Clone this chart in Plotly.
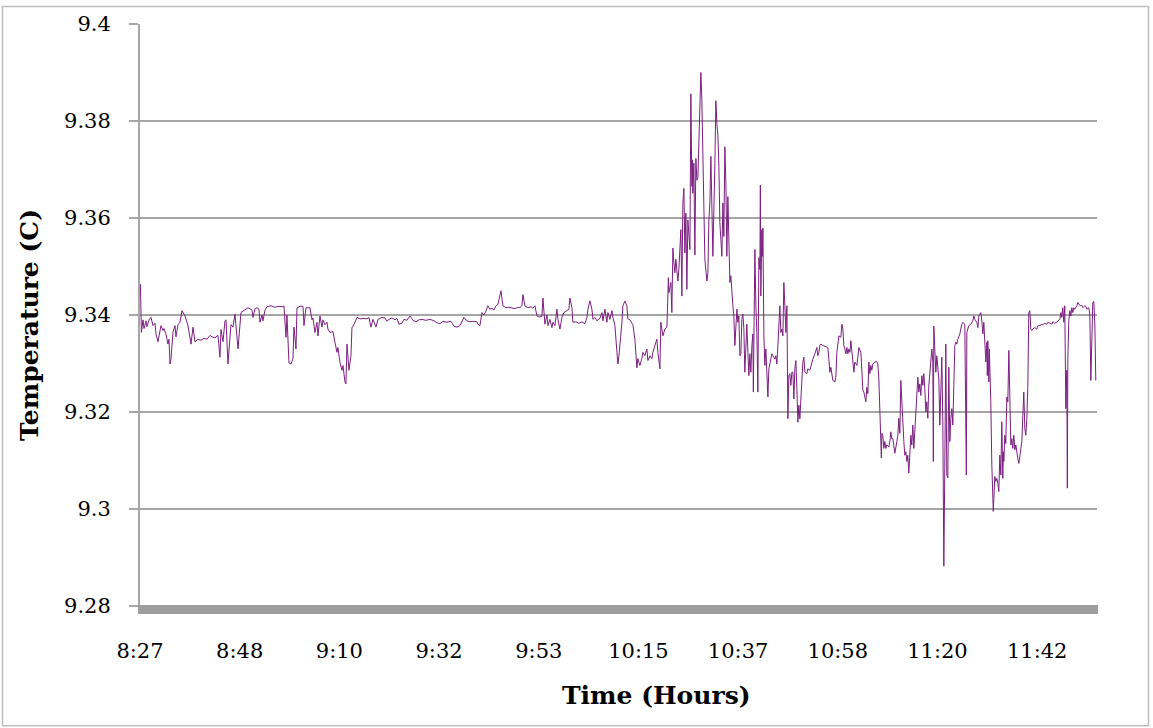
import plotly.graph_objects as go

# elapsed minutes after 8:27 and temperature (C)
elapsed_min = [
    0.00, 0.10, 0.30, 0.65, 0.87, 1.30, 1.52, 1.96, 2.39, 2.82,
    3.26, 3.48, 3.91, 4.35, 4.56, 5.00, 5.22, 5.65, 6.08, 6.30,
    6.52, 6.74, 7.17, 7.61, 7.82, 8.26, 8.69, 9.13, 9.78, 10.43,
    11.08, 11.52, 11.95, 12.60, 13.26, 13.91, 14.56, 15.21, 15.65, 16.30,
    16.95, 17.38, 17.60, 18.04, 18.47, 18.69, 19.12, 19.77, 20.21, 20.64,
    21.30, 21.95, 22.60, 23.03, 23.47, 23.90, 24.34, 24.56, 24.99, 25.42,
    25.86, 26.08, 26.51,
    26.73, 27.16, 27.60, 28.47, 29.34, 30.21, 31.07, 31.29, 31.73, 31.94,
    32.38, 32.81, 33.25, 33.46, 33.90, 34.12, 34.77, 35.42, 35.64, 36.07,
    36.94, 37.38, 37.59, 38.03, 38.46, 38.68, 39.11, 39.55, 39.77, 40.20,
    40.64, 40.85, 41.29, 41.94, 42.37, 42.81, 43.02, 43.46, 43.90, 44.11,
    44.55, 44.76, 44.98, 45.42, 45.85, 46.07, 46.29, 47.16, 47.81, 48.68,
    49.33, 49.76, 50.20, 50.63, 51.28, 51.72, 52.59, 53.24,
    53.67, 54.11, 54.76, 55.41, 55.85, 56.28, 56.93, 57.37, 58.02, 58.67,
    59.33, 59.98, 60.63, 61.28, 62.15, 63.02, 63.89, 64.54, 65.19, 65.84,
    66.71, 67.58, 68.24, 68.89, 69.54, 69.97, 70.41, 71.06, 71.71, 72.58,
    73.23, 73.45, 73.88, 74.32, 74.75, 75.19, 75.62, 76.06, 76.49, 76.93,
    77.36, 77.80, 78.23,
    78.45, 78.88, 79.53, 80.18, 80.84, 81.49, 82.14, 82.57, 83.01, 83.23,
    83.66, 84.31, 84.97, 85.40, 85.84, 86.27, 86.71, 87.36, 87.57, 88.01,
    88.44, 88.66, 89.09, 89.53, 89.75, 90.18, 90.62, 90.83, 91.27, 91.70,
    92.14, 92.79, 93.22, 93.44, 93.88, 94.10, 94.75, 95.40, 96.05, 96.70,
    97.14, 97.36, 97.79, 98.22, 98.44, 98.88, 99.31, 99.96, 100.40, 100.61,
    101.05, 101.48, 101.70, 102.13, 102.57, 102.79, 103.22, 103.66, 103.87, 104.09,
    104.52, 104.74, 104.96,
    105.39, 105.82, 106.04, 106.48, 106.91, 107.13, 107.56, 108.00, 108.21, 108.65,
    109.08, 109.30, 109.74, 110.17, 110.39, 110.82, 111.26, 111.47, 111.91, 112.34,
    112.56, 113.00, 113.21, 113.43, 113.65, 114.08, 114.52, 114.73, 114.84, 114.95,
    115.39, 115.60, 115.82, 116.04, 116.26, 116.47, 116.69, 116.91, 117.12, 117.56,
    117.77, 117.99, 118.21, 118.43, 118.64, 118.86, 119.08, 119.30, 119.52, 119.73,
    119.95, 120.06, 120.17, 120.38, 120.60, 120.82, 121.03, 121.25, 121.47, 121.69,
    121.90, 122.12, 122.34, 122.55, 122.77, 123.21, 123.43, 123.64, 123.86, 124.08,
    124.30, 124.51, 124.95, 125.16, 125.38, 125.60, 125.82, 126.03, 126.47, 126.69,
    126.90, 127.12, 127.34, 127.55, 127.77, 127.99, 128.21, 128.42, 128.64, 128.86,
    129.07, 129.29, 129.73, 129.94, 130.16, 130.38,
    130.60, 130.81, 131.03, 131.25, 131.46, 131.90, 132.12, 132.33, 132.55, 132.77,
    132.99, 133.20, 133.31, 133.42, 133.64, 133.86, 134.07, 134.29, 134.51, 134.73,
    134.83, 134.94, 135.16, 135.27, 135.38, 135.60, 135.81, 136.03, 136.25, 136.47,
    136.68, 137.12, 137.34, 137.55, 137.99, 138.21, 138.42, 138.64, 138.86, 139.07,
    139.29, 139.51, 139.73, 139.94, 140.16, 140.38, 140.60, 140.81, 141.03, 141.25,
    141.46, 141.68, 141.90, 142.12, 142.33, 142.55, 142.77, 142.99, 143.20, 143.42,
    143.64, 143.86, 144.07, 144.29, 144.51, 144.94, 145.16, 145.59, 146.03, 146.25,
    146.68, 147.12, 147.33, 147.55, 147.77, 147.98, 148.42, 149.07, 149.51, 149.72,
    149.94, 150.16, 150.38, 150.59, 151.03, 151.24, 151.46, 151.68, 151.90, 152.33,
    152.55, 152.77, 152.98, 153.20, 153.42, 153.64, 153.85, 154.07, 154.29, 154.50,
    154.72, 154.94, 155.16, 155.37, 155.81, 156.02, 156.24, 156.68, 156.89, 157.11,
    157.33, 157.55,
    157.76, 157.98, 158.20, 158.41, 158.63, 158.85, 159.06, 159.28, 159.72, 160.15,
    160.37, 160.59, 160.80, 161.02, 161.13, 161.24, 161.45, 161.67, 161.89, 162.11,
    162.32, 162.76, 162.98, 163.19, 163.41, 163.63, 163.84, 164.06, 164.50, 164.71,
    164.93, 165.15, 165.36, 165.58, 165.80, 166.02, 166.23, 166.45, 166.67, 166.88,
    167.10, 167.32, 167.54, 167.75, 167.97, 168.19, 168.41, 168.84, 169.06, 169.28,
    169.49, 169.71, 169.93, 170.14, 170.36, 170.58, 170.80, 171.01, 171.23, 171.45,
    171.67, 171.88, 172.10, 172.32, 172.43, 172.53, 172.75, 172.97, 173.19, 173.62,
    173.84, 174.06, 174.27, 174.49, 174.60, 174.71, 174.92, 175.14, 175.36, 175.58,
    175.79, 176.01, 176.23, 176.45, 176.66, 176.88, 177.10, 177.32, 177.53, 177.75,
    177.97, 178.19, 178.62, 178.84, 179.27, 179.49, 179.60, 179.71, 179.93, 180.14,
    180.58, 181.01, 181.23, 181.45, 181.88, 182.10, 182.32, 182.75, 182.97, 183.19,
    183.40, 183.62, 183.84, 184.06, 184.16, 184.27, 184.49, 184.60, 184.71, 184.92,
    185.14, 185.36, 185.46, 185.58, 185.79, 186.01, 186.23, 186.44, 186.66, 186.88,
    187.10, 187.31, 187.53, 187.64, 187.75, 187.97, 188.18, 188.40, 188.62, 188.84,
    189.05, 189.27, 189.49, 189.70, 189.92, 190.14, 190.36, 190.57, 190.79, 191.01,
    191.22, 191.66, 191.88, 192.09, 192.31, 192.53, 192.75, 192.96, 193.18, 193.40,
    193.62, 193.83, 194.05, 194.49, 194.92, 195.14, 195.57, 196.01, 196.22, 196.66,
    197.09, 197.31, 197.74, 198.18, 198.40, 198.83, 199.27, 199.48, 199.92, 200.14,
    200.35, 200.57, 200.79, 201.00, 201.22, 201.44, 201.55, 201.66, 201.87, 202.09,
    202.31, 202.53, 202.74, 202.96, 203.18, 203.61, 203.83, 204.05, 204.48, 204.70,
    204.92, 205.35, 205.57, 205.79, 206.22, 206.44, 206.66, 206.87, 207.09, 207.31,
    207.53, 207.74,
]

temp_c = [
    9.3440, 9.3463, 9.3364, 9.3390, 9.3372, 9.3388, 9.3376, 9.3390, 9.3395, 9.3378,
    9.3383, 9.3361, 9.3345, 9.3372, 9.3378, 9.3368, 9.3372, 9.3360, 9.3340, 9.3350,
    9.3299, 9.3310, 9.3365, 9.3378, 9.3355, 9.3380, 9.3385, 9.3409, 9.3398, 9.3378,
    9.3340, 9.3375, 9.3345, 9.3350, 9.3348, 9.3352, 9.3350, 9.3358, 9.3355, 9.3353,
    9.3358, 9.3313, 9.3370, 9.3345, 9.3388, 9.3390, 9.3299, 9.3380, 9.3375, 9.3402,
    9.3330, 9.3405, 9.3410, 9.3412, 9.3415, 9.3413, 9.3410, 9.3395, 9.3413, 9.3415,
    9.3412, 9.3385, 9.3400,
    9.3388, 9.3410, 9.3417, 9.3419, 9.3416, 9.3418, 9.3417, 9.3419, 9.3354, 9.3400,
    9.3301, 9.3299, 9.3310, 9.3375, 9.3330, 9.3414, 9.3418, 9.3418, 9.3378, 9.3415,
    9.3415, 9.3390, 9.3394, 9.3364, 9.3385, 9.3357, 9.3398, 9.3375, 9.3390, 9.3380,
    9.3385, 9.3371, 9.3364, 9.3366, 9.3344, 9.3323, 9.3333, 9.3302, 9.3286, 9.3296,
    9.3262, 9.3258, 9.3340, 9.3286, 9.3316, 9.3375, 9.3376, 9.3395, 9.3392, 9.3393,
    9.3392, 9.3395, 9.3375, 9.3391, 9.3375, 9.3391, 9.3395, 9.3394,
    9.3387, 9.3391, 9.3394, 9.3390, 9.3393, 9.3381, 9.3383, 9.3391, 9.3389, 9.3398,
    9.3389, 9.3386, 9.3390, 9.3391, 9.3389, 9.3391, 9.3388, 9.3384, 9.3382, 9.3387,
    9.3385, 9.3387, 9.3377, 9.3375, 9.3378, 9.3385, 9.3395, 9.3388, 9.3386, 9.3387,
    9.3386, 9.3381, 9.3378, 9.3405, 9.3400, 9.3408, 9.3419, 9.3412, 9.3414, 9.3410,
    9.3419, 9.3422, 9.3446,
    9.3450, 9.3419, 9.3415, 9.3416, 9.3414, 9.3413, 9.3416, 9.3415, 9.3419, 9.3442,
    9.3419, 9.3415, 9.3417, 9.3414, 9.3419, 9.3398, 9.3396, 9.3397, 9.3435, 9.3381,
    9.3400, 9.3378, 9.3391, 9.3374, 9.3385, 9.3378, 9.3412, 9.3391, 9.3371, 9.3395,
    9.3405, 9.3410, 9.3412, 9.3435, 9.3415, 9.3385, 9.3386, 9.3383, 9.3386, 9.3382,
    9.3395, 9.3412, 9.3429, 9.3412, 9.3391, 9.3395, 9.3388, 9.3393, 9.3405, 9.3388,
    9.3412, 9.3385, 9.3405, 9.3391, 9.3409, 9.3395, 9.3378, 9.3323, 9.3299, 9.3315,
    9.3357, 9.3385, 9.3419,
    9.3429, 9.3419, 9.3392, 9.3390, 9.3385, 9.3380, 9.3350, 9.3291, 9.3310, 9.3296,
    9.3310, 9.3323, 9.3316, 9.3330, 9.3306, 9.3316, 9.3310, 9.3323, 9.3337, 9.3350,
    9.3323, 9.3289, 9.3385, 9.3371, 9.3357, 9.3371, 9.3375, 9.3439, 9.3477, 9.3446,
    9.3467, 9.3405, 9.3538, 9.3508, 9.3487, 9.3515, 9.3498, 9.3470, 9.3494, 9.3576,
    9.3439, 9.3631, 9.3661, 9.3528, 9.3610, 9.3453, 9.3596, 9.3549, 9.3535, 9.3856,
    9.3665, 9.3720, 9.3651, 9.3713, 9.3524, 9.3723, 9.3678, 9.3682, 9.3754, 9.3849,
    9.3900, 9.3842, 9.3747, 9.3631, 9.3515, 9.3470, 9.3487, 9.3596, 9.3631, 9.3727,
    9.3610, 9.3521, 9.3713, 9.3842, 9.3795, 9.3771, 9.3706, 9.3590, 9.3521, 9.3631,
    9.3562, 9.3747, 9.3672, 9.3521, 9.3644, 9.3562, 9.3467, 9.3481, 9.3439, 9.3419,
    9.3398, 9.3337, 9.3412, 9.3385, 9.3398, 9.3316,
    9.3320, 9.3391, 9.3402, 9.3371, 9.3282, 9.3381, 9.3323, 9.3275, 9.3320, 9.3282,
    9.3337, 9.3361, 9.3241, 9.3405, 9.3535, 9.3419, 9.3364, 9.3241, 9.3518, 9.3494,
    9.3668, 9.3439, 9.3576, 9.3521, 9.3579, 9.3357, 9.3296, 9.3330, 9.3282, 9.3231,
    9.3289, 9.3313, 9.3320, 9.3316, 9.3309, 9.3316, 9.3299, 9.3337, 9.3371, 9.3419,
    9.3364, 9.3371, 9.3357, 9.3467, 9.3419, 9.3364, 9.3419, 9.3186, 9.3275, 9.3279,
    9.3255, 9.3282, 9.3282, 9.3227, 9.3289, 9.3306, 9.3248, 9.3179, 9.3214, 9.3186,
    9.3227, 9.3275, 9.3303, 9.3313, 9.3282, 9.3279, 9.3289, 9.3286, 9.3303, 9.3309,
    9.3320, 9.3333, 9.3316, 9.3323, 9.3337, 9.3340, 9.3337, 9.3335, 9.3333, 9.3309,
    9.3282, 9.3292, 9.3275, 9.3265, 9.3262, 9.3272, 9.3323, 9.3337, 9.3357, 9.3354,
    9.3381, 9.3371, 9.3337, 9.3330, 9.3320, 9.3333, 9.3320, 9.3330, 9.3323, 9.3347,
    9.3320, 9.3309, 9.3282, 9.3303, 9.3296, 9.3313, 9.3333, 9.3323, 9.3289, 9.3245,
    9.3241, 9.3230,
    9.3221, 9.3251, 9.3238, 9.3303, 9.3279, 9.3296, 9.3286, 9.3299, 9.3303, 9.3304,
    9.3299, 9.3268, 9.3200, 9.3173, 9.3105, 9.3156, 9.3152, 9.3125, 9.3139, 9.3125,
    9.3132, 9.3128, 9.3139, 9.3159, 9.3145, 9.3145, 9.3125, 9.3115, 9.3139, 9.3152,
    9.3187, 9.3156, 9.3265, 9.3221, 9.3159, 9.3139, 9.3111, 9.3118, 9.3098, 9.3111,
    9.3074, 9.3104, 9.3152, 9.3132, 9.3173, 9.3125, 9.3166, 9.3221, 9.3272, 9.3241,
    9.3258, 9.3234, 9.3275, 9.3255, 9.3279, 9.3248, 9.3200, 9.3221, 9.3187, 9.3255,
    9.3289, 9.3299, 9.3330, 9.3303, 9.3098, 9.3377, 9.3330, 9.3282, 9.3316, 9.3268,
    9.3173, 9.3248, 9.3313, 9.3180, 9.3033, 9.2882, 9.3084, 9.3340, 9.3070, 9.3064,
    9.3292, 9.3139, 9.3187, 9.3207, 9.3173, 9.3255, 9.3337, 9.3344, 9.3340, 9.3350,
    9.3357, 9.3361, 9.3381, 9.3385, 9.3381, 9.3084, 9.3070, 9.3364, 9.3374, 9.3378,
    9.3381, 9.3388, 9.3398, 9.3391, 9.3385, 9.3374, 9.3398, 9.3405, 9.3388, 9.3361,
    9.3385, 9.3350, 9.3303, 9.3344, 9.3275, 9.3347, 9.3262, 9.3330, 9.3296, 9.3221,
    9.3091, 9.3036, 9.2995, 9.3022, 9.3067, 9.3057, 9.3063, 9.3053, 9.3036, 9.3111,
    9.3070, 9.3180, 9.3063, 9.3118, 9.3098, 9.3152, 9.3135, 9.3231, 9.3221, 9.3327,
    9.3176, 9.3132, 9.3145, 9.3125, 9.3152, 9.3122, 9.3132, 9.3111, 9.3104, 9.3094,
    9.3108, 9.3139, 9.3193, 9.3241, 9.3166, 9.3152, 9.3186, 9.3251, 9.3405, 9.3409,
    9.3371, 9.3368, 9.3371, 9.3374, 9.3371, 9.3378, 9.3378, 9.3381, 9.3380, 9.3383,
    9.3381, 9.3385, 9.3383, 9.3381, 9.3386, 9.3383, 9.3385, 9.3388, 9.3391, 9.3405,
    9.3395, 9.3415, 9.3385, 9.3419, 9.3207, 9.3286, 9.3043, 9.3309, 9.3388, 9.3409,
    9.3398, 9.3415, 9.3405, 9.3415, 9.3412, 9.3419, 9.3426, 9.3422, 9.3419, 9.3420,
    9.3415, 9.3419, 9.3418, 9.3412, 9.3415, 9.3402, 9.3265, 9.3378, 9.3426, 9.3428,
    9.3381, 9.3265,
]

tick_minutes = [0.0, 21.67, 43.33, 65.0, 86.67, 108.33, 130.0, 151.67, 173.33, 195.0]
tick_labels = ["8:27", "8:48", "9:10", "9:32", "9:53", "10:15", "10:37", "10:58", "11:20", "11:42"]
y_ticks = [9.28, 9.30, 9.32, 9.34, 9.36, 9.38, 9.40]
y_tick_labels = ["9.28", "9.3", "9.32", "9.34", "9.36", "9.38", "9.4"]

n = min(len(elapsed_min), len(temp_c))
elapsed_min = elapsed_min[:n]
temp_c = temp_c[:n]

W, H = 1153, 728
ML, MR, MT, MB = 140, 56, 20, 122
PW, PH = W - ML - MR, H - MT - MB


def px(x):
    return (x - ML) / PW


def py(y):
    return (H - MB - y) / PH


FONT = "DejaVu Serif"
GRID = "#a6a6a6"

fig = go.Figure(
    go.Scatter(
        x=elapsed_min,
        y=temp_c,
        mode="lines",
        line=dict(color="#7b1f80", width=1),
        hoverinfo="skip",
    )
)

fig.update_layout(
    width=W,
    height=H,
    margin=dict(l=ML, r=MR, t=MT, b=MB, pad=0),
    paper_bgcolor="white",
    plot_bgcolor="white",
    showlegend=False,
    xaxis=dict(
        range=[0, 208],
        tickmode="array",
        tickvals=tick_minutes,
        ticktext=tick_labels,
        showgrid=False,
        zeroline=False,
        showline=False,
        ticks="",
        tickfont=dict(family=FONT, size=21, color="black"),
        ticklabelstandoff=30,
    ),
    yaxis=dict(
        range=[9.28, 9.40],
        tickmode="array",
        tickvals=y_ticks,
        ticktext=y_tick_labels,
        showgrid=True,
        gridcolor=GRID,
        gridwidth=1.5,
        zeroline=False,
        showline=True,
        linecolor=GRID,
        linewidth=2,
        ticks="outside",
        ticklen=9,
        tickwidth=1.5,
        tickcolor=GRID,
        tickfont=dict(family=FONT, size=21, color="black"),
        ticklabelstandoff=14,
    ),
    shapes=[
        dict(type="rect", xref="paper", yref="paper",
             x0=px(138), x1=px(1098), y0=py(614), y1=py(605),
             fillcolor="#9d9d9d", line=dict(width=0), layer="above"),
        dict(type="rect", xref="paper", yref="paper",
             x0=px(2.5), x1=px(1148.5), y0=py(726.5), y1=py(2.5),
             fillcolor="rgba(0,0,0,0)", line=dict(color="#bdbdbd", width=1.5),
             layer="above"),
    ],
    annotations=[
        dict(text="<b>Time (Hours)</b>", xref="paper", yref="paper",
             x=px(656), y=py(696), xanchor="center", yanchor="middle",
             showarrow=False, font=dict(family=FONT, size=25, color="black")),
        dict(text="<b>Temperature (C)</b>", xref="paper", yref="paper",
             x=px(30), y=py(323), xanchor="center", yanchor="middle", textangle=-90,
             showarrow=False, font=dict(family=FONT, size=25, color="black")),
    ],
)

fig.write_html("out.html")
